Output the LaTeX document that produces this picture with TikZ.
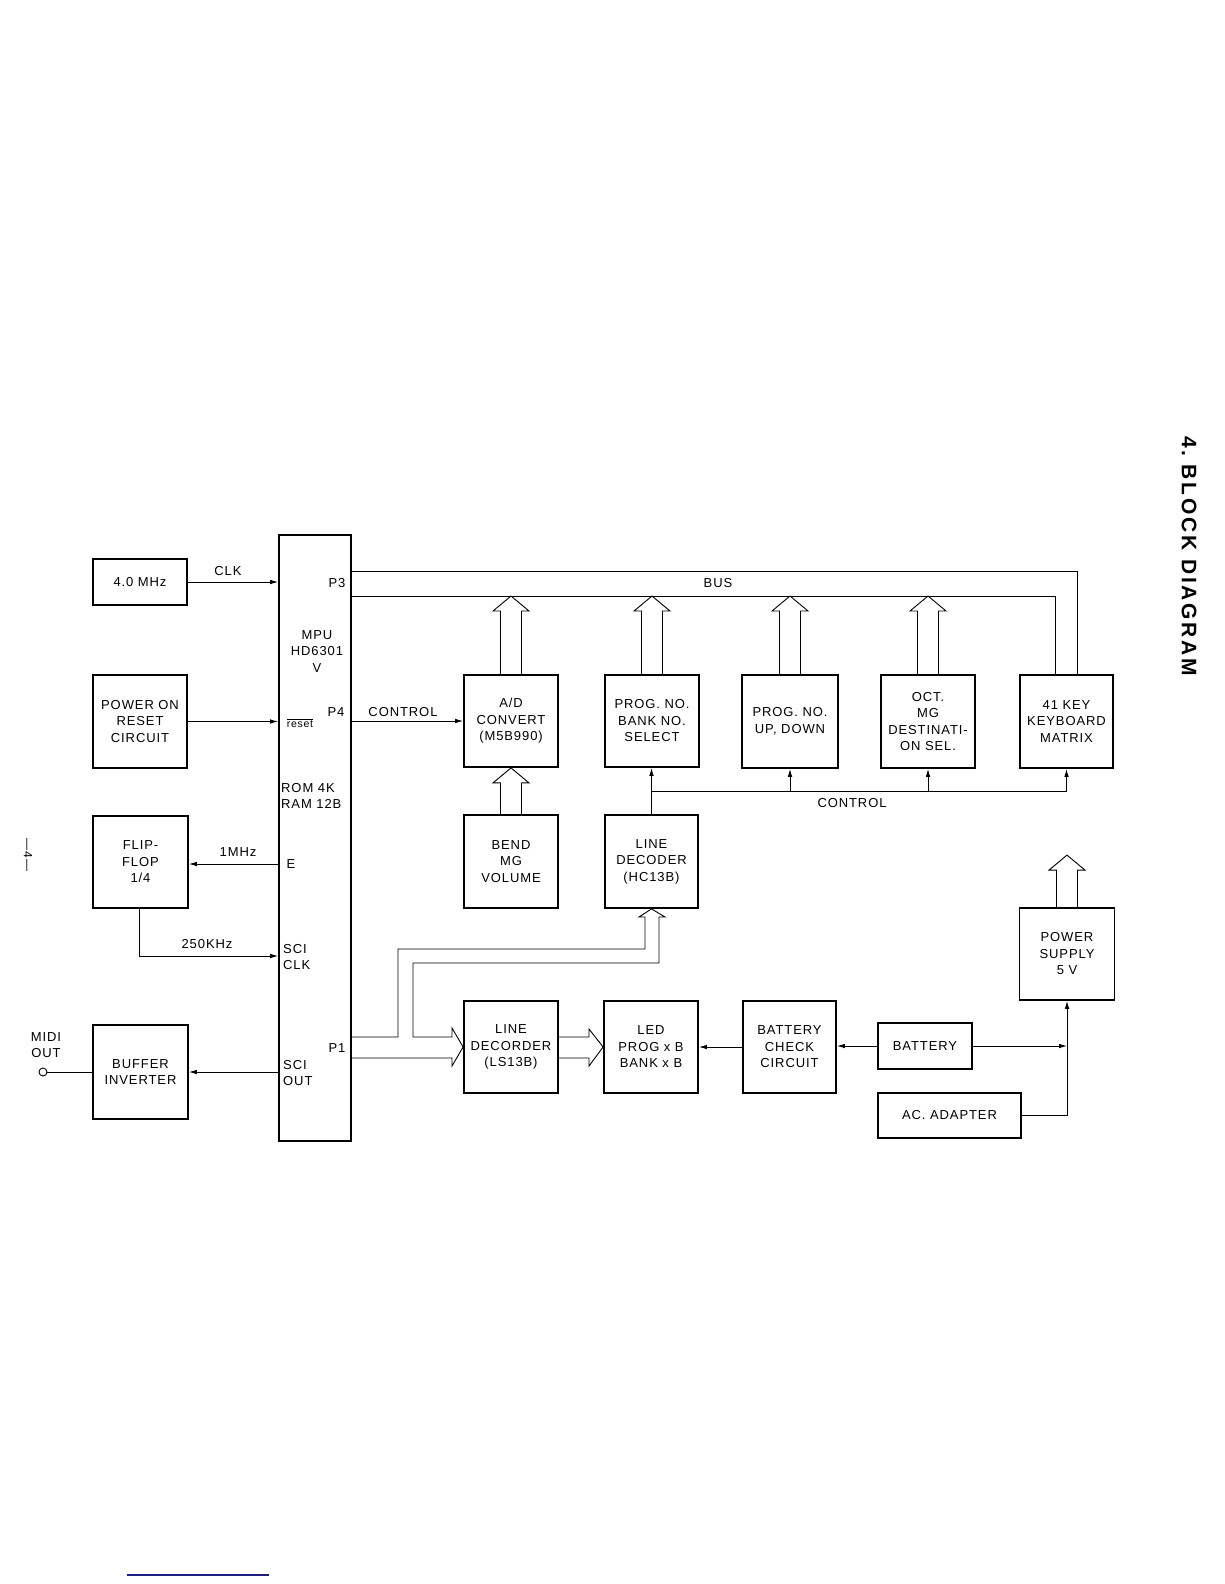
\documentclass[tikz,border=0pt]{standalone}
\usepackage{fontspec}
\setmainfont{Liberation Sans}
\newfontfamily\lab{Liberation Sans}[LetterSpace=7]
\newfontfamily\ttl{Liberation Sans}[LetterSpace=13]
\usetikzlibrary{arrows.meta,calc}
\tikzset{
  blk/.style={draw, line width=1.8pt, align=center, inner sep=0pt, font=\lab\fontsize{13}{16.5}\selectfont},
  txt/.style={inner sep=0pt, align=center, font=\lab\fontsize{13}{16.5}\selectfont},
  ltxt/.style={txt, align=left, anchor=west},
  wire/.style={line width=0.9pt},
  arr/.style={wire, -{Latex[length=8pt,width=4.6pt]}},
  hol/.style={line width=0.9pt, line join=miter},
  sz/.style 2 args={minimum width=#1, minimum height=#2},
}
\newcommand\hup[2]{%
  \draw[hol] let \p1=(#1), \p2=(#2) in
    (\x1-10.5pt,\y1) -- (\x1-10.5pt,\y2-15pt) -- (\x1-18pt,\y2-15pt) -- (\x1,\y2)
    -- (\x1+18pt,\y2-15pt) -- (\x1+10.5pt,\y2-15pt) -- (\x1+10.5pt,\y1);}
\begin{document}
\begin{tikzpicture}[x=1pt,y=-1pt]
\useasboundingbox (0,0) rectangle (1224,1584);
\fill[white] (0,0) rectangle (1224,1584);

% ---- left column ----
\node[blk, sz={94pt}{46pt}] (clk) at (140,582) {4.0 MHz};
\node[blk, sz={94pt}{93pt}] (por) at (140,721.5) {POWER ON\\RESET\\CIRCUIT};
\node[blk, sz={95pt}{92pt}] (ff) at (140.5,862) {FLIP-\\FLOP\\1/4};
\node[blk, sz={95pt}{94pt}] (buf) at (140.5,1072) {BUFFER\\INVERTER};
\node[circle, draw, wire, minimum size=8pt, inner sep=0pt] (midi) at (43,1072) {};
\node[txt] (midilbl) at (46,1045) {MIDI\\OUT};

% ---- MPU ----
\node[blk, sz={72pt}{606pt}] (mpu) at (315,838) {};
\node[txt] (mputx) at (317,651.5) {MPU\\HD6301\\V};
\node[txt] (p3) at (337,583) {P3};
\node[txt] (p4) at (336,712) {P4};
\node[txt, font=\lab\fontsize{10.5}{12}\selectfont] (rst) at (300,723) {$\overline{\hbox{reset}}$};
\node[ltxt] (mem) at (281,796) {ROM 4K\\RAM 12B};
\node[txt] (pe) at (291,864) {E};
\node[ltxt] (sciclk) at (283,957) {SCI\\CLK};
\node[txt] (p1) at (337,1048) {P1};
\node[ltxt] (sciout) at (283,1073) {SCI\\OUT};

% ---- upper row ----
\node[blk, sz={94pt}{92pt}] (ad) at (511,721) {A/D\\CONVERT\\(M5B990)};
\node[blk, sz={94pt}{92pt}] (prog) at (652,721) {PROG. NO.\\BANK NO.\\SELECT};
\node[blk, sz={96pt}{93pt}] (updown) at (790,721.5) {PROG. NO.\\UP, DOWN};
\node[blk, sz={94pt}{93pt}] (oct) at (928,721.5) {OCT.\\MG\\DESTINATI-\\ON SEL.};
\node[blk, sz={93pt}{93pt}] (kbd) at (1066.5,721.5) {41 KEY\\KEYBOARD\\MATRIX};

% ---- middle row ----
\node[blk, sz={94pt}{93pt}] (bend) at (511,861.5) {BEND\\MG\\VOLUME};
\node[blk, sz={93pt}{93pt}] (hc) at (651.5,861.5) {LINE\\DECODER\\(HC13B)};
\node[blk, sz={95pt}{92pt}] (ps) at (1067,954) {POWER\\SUPPLY\\5 V};

% ---- lower row ----
\node[blk, sz={94pt}{92pt}] (ls) at (511,1047) {LINE\\DECORDER\\(LS13B)};
\node[blk, sz={94pt}{92pt}] (led) at (651,1047) {LED\\PROG x B\\BANK x B};
\node[blk, sz={93pt}{92pt}] (bchk) at (789.5,1047) {BATTERY\\CHECK\\CIRCUIT};
\node[blk, sz={94pt}{46pt}] (batt) at (925,1046) {BATTERY};
\node[blk, sz={143pt}{45pt}] (ac) at (949.5,1115.5) {AC. ADAPTER};

% ---- labels ----
\node[txt] (lclk) at (228,571) {CLK};
\node[txt] (l1m) at (238,852) {1MHz};
\node[txt] (l250) at (207,944) {250KHz};
\node[txt] (lctl1) at (403,712) {CONTROL};
\node[txt] (lctl2) at (852,803) {CONTROL};
\node[txt] (lbus) at (718,583) {BUS};

% ---- thin connectors ----
\draw[arr] (clk.east) -- (clk.east -| mpu.west);
\draw[arr] (por.east) -- (por.east -| mpu.west);
\draw[arr] (mpu.west |- 0,864) -- (ff.east |- 0,864);
\draw[arr] (ff.south -| 139,0) -- (139,956) -- (mpu.west |- 0,956);
\draw[arr] (mpu.west |- buf.east) -- (buf.east);
\draw[wire] (midi.east) -- (buf.west);
\draw[arr] (mpu.east |- ad.west) -- (ad.west);

% control bus
\coordinate (cb) at (hc.north |- 0,791);
\draw[arr] (hc.north) -- (prog.south -| hc.north);
\draw[wire] (cb) -- (kbd.south |- cb);
\draw[arr] (kbd.south |- cb) -- (kbd.south);
\draw[arr] (updown.south |- cb) -- (updown.south);
\draw[arr] (oct.south |- cb) -- (oct.south);

% data bus P3
\draw[wire] (mpu.east |- 0,571) -- (1077,571) -- (1077,0 |- kbd.north);
\draw[wire] (mpu.east |- 0,596) -- (1055,596) -- (1055,0 |- kbd.north);
\coordinate (busb) at (0,596);

% hollow arrows to the bus
\hup{ad.north}{ad.north |- busb}
\hup{prog.north}{prog.north |- busb}
\hup{updown.north}{updown.north |- busb}
\hup{oct.north}{oct.north |- busb}
\hup{bend.north}{ad.south}
\coordinate (psup) at ($(ps.north)+(0,-52)$);
\hup{ps.north}{psup}

% P1 hollow bus
\draw[hol] (mpu.east |- 0,1037) -- (398,1037) -- (398,949) -- (645,949) -- (645,917)
  -- (639,917) -- (hc.south) -- (665,917) -- (659,917) -- (659,963) -- (413,963)
  -- (413,1037) -- (452,1037) -- (452,1028) -- (ls.west) -- (452,1066) -- (452,1058)
  -- (mpu.east |- 0,1058);
\draw[hol] (ls.east |- 0,1037) -- (589,1037) -- (589,1029) -- (led.west) -- (589,1066)
  -- (589,1058) -- (ls.east |- 0,1058);

% power section
\draw[arr] (bchk.west) -- (led.east);
\draw[arr] (batt.west) -- (bchk.east |- batt.west);
\coordinate (jn) at (ps.south |- batt.east);
\draw[arr] (batt.east) -- (jn);
\draw[arr] (ac.east) -- (ac.east -| jn) -- (ps.south);

% ---- page decorations ----
\node[rotate=-90, inner sep=0pt, font=\ttl\bfseries\fontsize{21}{24}\selectfont] (title) at (1189,556) {4.\ BLOCK DIAGRAM};
\node[rotate=-90, inner sep=0pt, font=\lab\fontsize{12}{14}\selectfont] (pgno) at (28,855) {—4—};
\draw[line width=1.5pt, color={rgb,255:red,30;green,30;blue,130}] (127,1575) -- (269,1575);
\end{tikzpicture}
\end{document}
